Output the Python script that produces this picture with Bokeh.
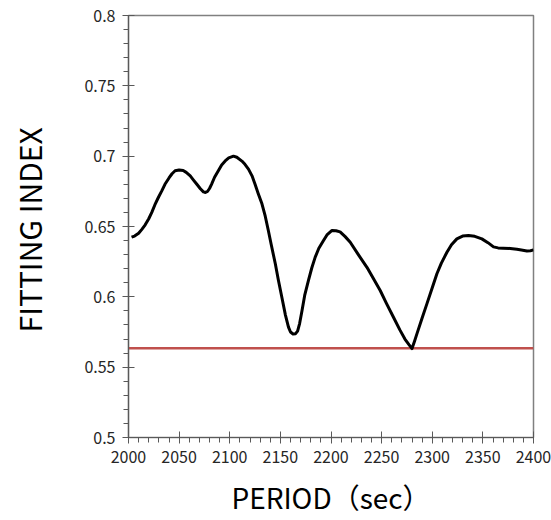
from bokeh.plotting import figure
from bokeh.models import Range1d, FixedTicker, CustomJSTickFormatter
from bokeh.embed import file_html
from bokeh.resources import INLINE

period = [2003, 2006, 2010, 2013, 2016.5, 2020, 2023, 2026, 2029.6, 2033, 2036, 2040, 2043, 2046, 2050,
          2054, 2057, 2061, 2064, 2067.5, 2071, 2074, 2076, 2078, 2080, 2082, 2085, 2089, 2092,
          2095.5, 2099, 2103.7, 2107, 2112, 2115, 2118.5, 2122, 2125, 2128, 2131.8, 2135, 2138,
          2141, 2145, 2148, 2151.5, 2155, 2158, 2160, 2162.5, 2165, 2167, 2169, 2171.3, 2174,
          2177.8, 2181, 2184.4, 2188, 2192.6, 2196, 2201, 2205, 2209, 2214, 2219, 2227, 2235.5,
          2242, 2248.6, 2255, 2261.7, 2268, 2273, 2277, 2280, 2282.5, 2285, 2290, 2294.7, 2300,
          2304.6, 2309, 2314.5, 2319, 2324.3, 2330, 2335.8, 2342, 2349, 2355, 2360.5, 2365, 2370,
          2377, 2383.6, 2388, 2393.5, 2397, 2400]
fitting_index = [0.6424, 0.6432, 0.6452, 0.6478, 0.6512, 0.6555, 0.6600, 0.6653, 0.6708, 0.6755,
                 0.6800, 0.6845, 0.6875, 0.6896, 0.6902, 0.6898, 0.6885, 0.6860, 0.6832, 0.6800,
                 0.6768, 0.6746, 0.6742, 0.6749, 0.6770, 0.6800, 0.6850, 0.6900, 0.6938, 0.6966,
                 0.6988, 0.7000, 0.6992, 0.6965, 0.6942, 0.6908, 0.6860, 0.6800, 0.6737, 0.6661,
                 0.6575, 0.6475, 0.6370, 0.6235, 0.6120, 0.5995, 0.5870, 0.5785, 0.5750, 0.5736,
                 0.5738, 0.5756, 0.5810, 0.5900, 0.6010, 0.6118, 0.6205, 0.6282, 0.6345, 0.6400,
                 0.6440, 0.6472, 0.6470, 0.6462, 0.6428, 0.6388, 0.6300, 0.6210, 0.6128, 0.6045,
                 0.5950, 0.5855, 0.5765, 0.5700, 0.5660, 0.5632, 0.5685, 0.5740, 0.5850, 0.5950,
                 0.6065, 0.6164, 0.6240, 0.6317, 0.6370, 0.6412, 0.6432, 0.6436, 0.6430, 0.6412,
                 0.6385, 0.6355, 0.6348, 0.6346, 0.6344, 0.6338, 0.6333, 0.6326, 0.6328, 0.6334]
threshold = 0.5635
x_ticks = [2000, 2050, 2100, 2150, 2200, 2250, 2300, 2350, 2400]
y_ticks = [0.5, 0.55, 0.6, 0.65, 0.7, 0.75, 0.8]
x_label = "PERIOD（sec）"
y_label = "FITTING  INDEX"

p = figure(width=551, height=520, output_backend="svg", toolbar_location=None,
           x_range=Range1d(2000, 2400), y_range=Range1d(0.5, 0.8),
           min_border_left=128, min_border_right=18, min_border_top=15, min_border_bottom=83)
p.xgrid.visible = False
p.ygrid.visible = False
p.outline_line_color = "#808080"
p.outline_line_width = 1.5
p.background_fill_color = "white"
p.border_fill_color = "white"

p.line([2000, 2400], [threshold, threshold], line_color="#c0504d", line_width=2.5)
p.line(period, fitting_index, line_color="black", line_width=3, line_join="round")

font = "Noto Sans CJK JP"
for ax, ticks in ((p.xaxis[0], x_ticks), (p.yaxis[0], y_ticks)):
    ax.ticker = FixedTicker(ticks=ticks,
                            minor_ticks=[round(ticks[0] + i * (ticks[1] - ticks[0]) / 5, 4)
                                         for i in range(5 * (len(ticks) - 1) + 1)])
    ax.axis_line_color = "#595959"
    ax.axis_line_width = 1.2
    ax.major_tick_line_color = "#595959"
    ax.minor_tick_line_color = "#595959"
    ax.major_label_text_font = font
    ax.major_label_text_font_size = "16px"
    ax.major_label_text_color = "#262626"
    ax.major_tick_in = 6
    ax.major_tick_out = 6
    ax.minor_tick_in = 0
    ax.minor_tick_out = 5
    ax.major_label_standoff = 7
    ax.axis_label_text_font = font
    ax.axis_label_text_font_style = "normal"
    ax.axis_label_text_color = "black"

p.yaxis[0].formatter = CustomJSTickFormatter(code="return tick.toFixed(2).replace(/0$/, '');")
p.xaxis[0].formatter = CustomJSTickFormatter(code="return tick.toFixed(0);")

p.xaxis[0].axis_label = x_label
p.xaxis[0].axis_label_text_font_size = "28px"
p.xaxis[0].axis_label_standoff = 11
p.yaxis[0].axis_label = y_label
p.yaxis[0].axis_label_text_font_size = "30px"
p.yaxis[0].axis_label_standoff = 30

open("out.html", "w").write(file_html(p, INLINE))
